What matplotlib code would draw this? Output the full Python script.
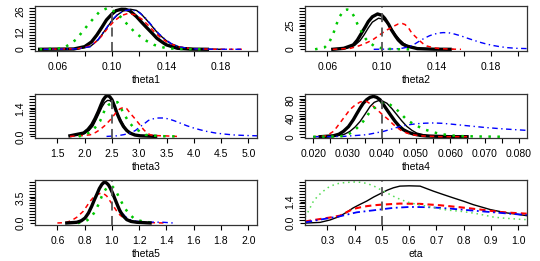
import numpy as np
import matplotlib
matplotlib.use("Agg")
import matplotlib.pyplot as plt

plt.rcParams["font.family"] = ["Liberation Sans", "DejaVu Sans"]

# ---- theta1 ----
t1_black1_x = [0.047, 0.072, 0.080, 0.085, 0.089, 0.093, 0.096, 0.100, 0.103, 0.107, 0.110, 0.113, 0.118, 0.122, 0.126, 0.130, 0.133, 0.137, 0.140, 0.148, 0.158, 0.170]
t1_black1_y = [0, 0.2, 1.8, 5.0, 9.8, 15.5, 20, 24, 26.3, 27.3, 27.2, 26.3, 22.3, 18.2, 14.3, 10.5, 7.5, 4.8, 3.0, 0.7, 0.1, 0]
t1_black2_x = [0.055, 0.075, 0.084, 0.090, 0.096, 0.100, 0.104, 0.108, 0.1135, 0.118, 0.121, 0.125, 0.128, 0.132, 0.135, 0.140, 0.143, 0.150, 0.162, 0.180]
t1_black2_y = [0, 0.3, 1.8, 6.5, 14.3, 19.5, 23.4, 26, 27.3, 26.5, 24.5, 20.5, 17.3, 12.8, 9.8, 5.8, 4.0, 1.4, 0.2, 0]
t1_blue_x = [0.05, 0.075, 0.084, 0.090, 0.096, 0.100, 0.104, 0.109, 0.114, 0.119, 0.124, 0.129, 0.134, 0.139, 0.144, 0.150, 0.160, 0.175, 0.197]
t1_blue_y = [0, 0.3, 1.8, 6.8, 14.5, 19.8, 23.6, 26.3, 27.0, 25.8, 22, 16.5, 11, 6.8, 3.6, 1.5, 0.3, 0.05, 0]
t1_red_x = [0.05, 0.075, 0.085, 0.092, 0.097, 0.102, 0.107, 0.112, 0.117, 0.122, 0.127, 0.132, 0.137, 0.142, 0.150, 0.160, 0.175, 0.197]
t1_red_y = [0, 0.4, 2.5, 8.5, 14.5, 19.5, 23, 24.5, 23.5, 20.5, 16, 11, 7, 4, 1.5, 0.3, 0.05, 0]
t1_green_x = [0.047, 0.064, 0.069, 0.074, 0.078, 0.084, 0.091, 0.097, 0.104, 0.111, 0.117, 0.124, 0.131, 0.140, 0.150, 0.165]
t1_green_y = [0, 0.7, 3.4, 6.8, 11.6, 18.4, 25.7, 28.2, 24.5, 17.3, 11.4, 6.4, 3.0, 0.7, 0.2, 0]

# ---- theta2 ----
t2_black1_x = [0.064, 0.072, 0.079, 0.082, 0.085, 0.088, 0.090, 0.093, 0.0968, 0.100, 0.102, 0.105, 0.107, 0.110, 0.112, 0.115, 0.118, 0.126, 0.138, 0.150]
t2_black1_y = [0, 1, 4.5, 9.5, 16.5, 23.5, 28.5, 33.5, 36.4, 35, 32, 25.5, 20, 13.5, 9.6, 5.5, 3.4, 0.7, 0.1, 0]
t2_black2_x = [0.066, 0.074, 0.080, 0.084, 0.087, 0.090, 0.093, 0.0975, 0.101, 0.104, 0.107, 0.110, 0.113, 0.116, 0.120, 0.128, 0.140, 0.152]
t2_black2_y = [0, 1, 4, 9, 15, 22, 28, 32, 31, 27, 21.5, 15, 10, 6, 3, 0.8, 0.1, 0]
t2_green_x = [0.051, 0.058, 0.061, 0.064, 0.067, 0.069, 0.072, 0.0745, 0.077, 0.080, 0.082, 0.085, 0.088, 0.090, 0.095, 0.101, 0.110, 0.121]
t2_green_y = [0, 2, 6.2, 14.8, 26.8, 33.7, 39.9, 41, 39.9, 33, 26.1, 18.2, 11, 7.9, 2.7, 0.7, 0.1, 0]
t2_red_x = [0.064, 0.077, 0.083, 0.086, 0.090, 0.094, 0.097, 0.100, 0.103, 0.106, 0.109, 0.112, 0.115, 0.117, 0.120, 0.122, 0.125, 0.127, 0.130, 0.133, 0.138, 0.143, 0.150, 0.158]
t2_red_y = [0, 1, 3.5, 5, 7.5, 10.5, 13.5, 16.5, 19.5, 21.6, 24, 26.1, 26.5, 25.5, 21, 16.5, 12.5, 9.6, 6, 3.4, 1.5, 0.7, 0.2, 0]
t2_blue_x = [0.094, 0.105, 0.1135, 0.118, 0.123, 0.127, 0.131, 0.135, 0.138, 0.142, 0.145, 0.149, 0.153, 0.158, 0.163, 0.168, 0.172, 0.177, 0.182, 0.187, 0.192, 0.199, 0.207]
t2_blue_y = [0, 0.2, 0.7, 2, 4.5, 8, 11.3, 14, 15.5, 16.8, 17.2, 17, 15.8, 13.8, 11.3, 9, 7.2, 5.3, 3.8, 2.6, 1.7, 1.0, 0.7]

# ---- theta3 ----
t3_black1_x = [1.73, 1.98, 2.06, 2.13, 2.19, 2.25, 2.30, 2.34, 2.38, 2.42, 2.46, 2.50, 2.55, 2.59, 2.65, 2.71, 2.77, 2.83, 2.92, 3.02, 3.3]
t3_black1_y = [0.03, 0.17, 0.35, 0.59, 0.9, 1.26, 1.6, 1.85, 2.0, 2.07, 2.0, 1.85, 1.5, 1.18, 0.8, 0.5, 0.3, 0.17, 0.07, 0.03, 0]
t3_black2_x = [1.75, 2.0, 2.08, 2.15, 2.21, 2.27, 2.32, 2.37, 2.42, 2.47, 2.52, 2.57, 2.62, 2.68, 2.74, 2.80, 2.87, 2.95, 3.05, 3.3]
t3_black2_y = [0.02, 0.15, 0.3, 0.52, 0.85, 1.2, 1.5, 1.72, 1.82, 1.8, 1.65, 1.38, 1.05, 0.72, 0.45, 0.26, 0.13, 0.06, 0.02, 0]
t3_green_x = [1.89, 2.03, 2.16, 2.28, 2.37, 2.44, 2.50, 2.55, 2.60, 2.65, 2.71, 2.80, 2.88, 2.96, 3.11, 3.3, 3.45, 3.69]
t3_green_y = [0, 0.1, 0.34, 0.76, 1.35, 1.6, 1.68, 1.72, 1.73, 1.5, 1.18, 0.76, 0.5, 0.34, 0.08, 0.03, 0.01, 0]
t3_red_x = [1.73, 1.95, 2.1, 2.2, 2.28, 2.37, 2.47, 2.53, 2.59, 2.65, 2.71, 2.77, 2.83, 2.90, 2.96, 3.02, 3.08, 3.14, 3.2, 3.3, 3.45, 3.69]
t3_red_y = [0, 0.04, 0.08, 0.2, 0.34, 0.55, 0.84, 1.05, 1.26, 1.4, 1.46, 1.4, 1.18, 0.96, 0.76, 0.55, 0.34, 0.18, 0.08, 0.04, 0.03, 0]
t3_blue_x = [2.4, 2.59, 2.72, 2.83, 2.93, 3.02, 3.10, 3.17, 3.26, 3.35, 3.45, 3.54, 3.64, 3.75, 3.87, 4.0, 4.12, 4.24, 4.4, 4.55, 4.75, 4.92, 5.16]
t3_blue_y = [0, 0.03, 0.09, 0.17, 0.3, 0.5, 0.66, 0.81, 0.89, 0.93, 0.93, 0.88, 0.79, 0.67, 0.54, 0.42, 0.33, 0.25, 0.17, 0.12, 0.07, 0.05, 0.03]

# ---- theta4 ----
t4_black1_x = [0.022, 0.0259, 0.0275, 0.0288, 0.0303, 0.0317, 0.0327, 0.0337, 0.0346, 0.0356, 0.0366, 0.0376, 0.0385, 0.0395, 0.0405, 0.0415, 0.0427, 0.0439, 0.0451, 0.0463, 0.0478, 0.0493, 0.0512, 0.0532, 0.060, 0.0649]
t4_black1_y = [0, 2, 5.5, 11.6, 22, 37, 50, 62.6, 73, 80.8, 86, 88, 86, 80.8, 70, 59, 46, 33.5, 23, 15.3, 9.5, 5.8, 3, 1.5, 0, 0]
t4_black2_x = [0.022, 0.027, 0.0290, 0.0307, 0.0322, 0.0337, 0.0352, 0.0366, 0.0378, 0.0390, 0.0402, 0.0415, 0.0430, 0.0444, 0.0458, 0.0473, 0.0488, 0.0502, 0.0520, 0.0541, 0.058, 0.065]
t4_black2_y = [0, 2, 5, 11.6, 21, 33.5, 50, 66, 75, 78.6, 78, 73, 61, 48, 35, 22.6, 14, 8, 4.5, 2, 0.5, 0]
t4_red_x = [0.020, 0.022, 0.0239, 0.0259, 0.0268, 0.0278, 0.0293, 0.0307, 0.0322, 0.0337, 0.0346, 0.0356, 0.0366, 0.0376, 0.0388, 0.040, 0.042, 0.0432, 0.0444, 0.0458, 0.0473, 0.0492, 0.0512, 0.0571, 0.0649]
t4_red_y = [0, 0.5, 2, 11.6, 20, 30, 45, 59, 69, 75.7, 77.5, 77, 72, 66, 58, 49.5, 37, 28, 20.4, 13, 8, 4, 2, 0, 0]
t4_green_x = [0.020, 0.0278, 0.0300, 0.0317, 0.0332, 0.0346, 0.0356, 0.0366, 0.0383, 0.040, 0.0412, 0.0424, 0.0434, 0.0444, 0.0456, 0.0468, 0.048, 0.0493, 0.051, 0.0527, 0.055, 0.0571, 0.062, 0.0685, 0.0746]
t4_green_y = [0, 0.5, 4, 11.6, 22, 33.5, 44, 55, 66, 73.5, 74, 70, 65, 59, 50, 40.8, 33.5, 27.7, 21, 15.3, 10, 5.8, 1.5, 0.5, 0]
t4_blue_x = [0.020, 0.0288, 0.0356, 0.0405, 0.0430, 0.0454, 0.0478, 0.0502, 0.0527, 0.0551, 0.0575, 0.060, 0.0649, 0.0698, 0.0746, 0.0785, 0.0824]
t4_blue_y = [0, 0.7, 4.4, 11.6, 17, 22.6, 26, 28.4, 29.5, 30, 29.3, 27.7, 24, 20.4, 17.5, 15.6, 13.8]

# ---- theta5 ----
t5_black1_x = [0.669, 0.742, 0.775, 0.803, 0.828, 0.852, 0.870, 0.889, 0.908, 0.926, 0.940, 0.950, 0.962, 0.975, 0.987, 1.005, 1.024, 1.042, 1.06, 1.085, 1.109, 1.14, 1.183, 1.28]
t5_black1_y = [0, 0.1, 0.3, 0.7, 1.4, 2.36, 3.2, 4.0, 4.85, 5.42, 5.7, 5.75, 5.6, 5.35, 4.95, 4.2, 3.3, 2.45, 1.65, 0.95, 0.47, 0.22, 0.1, 0]
t5_blue_x = [0.669, 0.742, 0.803, 0.852, 0.889, 0.926, 0.957, 0.987, 1.024, 1.048, 1.072, 1.096, 1.12, 1.15, 1.18, 1.22, 1.256, 1.30, 1.378, 1.45]
t5_blue_y = [0, 0.1, 0.7, 2.36, 4.1, 5.42, 5.66, 5.0, 3.3, 2.3, 1.5, 0.95, 0.57, 0.35, 0.24, 0.18, 0.14, 0.12, 0.1, 0]
t5_red_x = [0.60, 0.656, 0.70, 0.742, 0.79, 0.815, 0.84, 0.865, 0.889, 0.914, 0.938, 0.962, 0.987, 1.012, 1.036, 1.06, 1.097, 1.14, 1.18, 1.28, 1.38]
t5_red_y = [0, 0.05, 0.3, 0.8, 1.65, 2.35, 3.07, 3.6, 4.0, 4.15, 4.15, 3.8, 3.07, 2.35, 1.65, 1.1, 0.57, 0.25, 0.12, 0.05, 0]
t5_green_x = [0.75, 0.79, 0.82, 0.852, 0.870, 0.889, 0.908, 0.926, 0.944, 0.962, 0.981, 1.0, 1.018, 1.036, 1.058, 1.08, 1.10, 1.121, 1.158, 1.2, 1.232, 1.28, 1.33]
t5_green_y = [0, 0.1, 0.4, 0.94, 1.45, 2.1, 2.9, 3.77, 4.45, 4.95, 5.15, 5.2, 4.85, 4.25, 3.4, 2.6, 1.95, 1.4, 0.7, 0.35, 0.2, 0.08, 0]

# ---- eta ----
eta_black_x = [0.224, 0.273, 0.31, 0.346, 0.37, 0.395, 0.42, 0.444, 0.47, 0.5, 0.52, 0.542, 0.566, 0.60, 0.64, 0.689, 0.725, 0.762, 0.80, 0.835, 0.87, 0.897, 0.93, 0.958, 1.0, 1.031]
eta_black_y = [0, 0.04, 0.2, 0.44, 0.7, 0.99, 1.22, 1.43, 1.7, 1.97, 2.15, 2.3, 2.41, 2.43, 2.41, 2.08, 1.86, 1.64, 1.42, 1.2, 1.02, 0.88, 0.76, 0.66, 0.56, 0.48]
eta_green_x = [0.218, 0.224, 0.249, 0.267, 0.285, 0.303, 0.322, 0.34, 0.359, 0.38, 0.40, 0.42, 0.444, 0.47, 0.494, 0.52, 0.542, 0.57, 0.603, 0.634, 0.664, 0.695, 0.725, 0.755, 0.786, 0.817, 0.848, 0.879, 0.909, 0.94, 0.97, 1.0, 1.031]
eta_green_y = [0.4, 0.55, 1.43, 1.8, 2.08, 2.32, 2.48, 2.58, 2.63, 2.66, 2.68, 2.66, 2.59, 2.42, 2.19, 1.95, 1.75, 1.52, 1.32, 1.2, 1.1, 0.99, 0.88, 0.82, 0.77, 0.7, 0.61, 0.5, 0.39, 0.33, 0.29, 0.25, 0.22]
eta_red_x = [0.218, 0.273, 0.31, 0.346, 0.37, 0.395, 0.42, 0.444, 0.47, 0.5, 0.566, 0.64, 0.713, 0.786, 0.86, 0.933, 0.982, 1.031]
eta_red_y = [0.1, 0.26, 0.36, 0.48, 0.7, 0.92, 1.02, 1.1, 1.16, 1.2, 1.27, 1.25, 1.16, 1.03, 0.88, 0.72, 0.66, 0.61]
eta_blue_x = [0.218, 0.273, 0.346, 0.408, 0.469, 0.542, 0.603, 0.677, 0.75, 0.835, 0.909, 0.982, 1.031]
eta_blue_y = [0.04, 0.22, 0.44, 0.7, 0.83, 0.99, 1.05, 1.03, 0.94, 0.81, 0.7, 0.59, 0.53]

# panel labels, true values, axis ticks
names = ["theta1", "theta2", "theta3", "theta4", "theta5", "eta"]
true_vals = [0.10, 0.10, 2.5, 0.04, 1.0, 0.5]
xticks = [np.arange(0.06, 0.201, 0.02), np.arange(0.06, 0.201, 0.02), np.arange(1.5, 5.01, 0.5),
          np.arange(0.020, 0.0801, 0.005), np.arange(0.6, 2.01, 0.2), np.arange(0.3, 1.01, 0.1)]
xlabels = [["0.06", "", "0.10", "", "0.14", "", "0.18", ""],
           ["0.06", "", "0.10", "", "0.14", "", "0.18", ""],
           ["1.5", "2.0", "2.5", "3.0", "3.5", "4.0", "4.5", "5.0"],
           ["0.020", "", "0.030", "", "0.040", "", "0.050", "", "0.060", "", "0.070", "", "0.080"],
           ["0.6", "0.8", "1.0", "1.2", "1.4", "1.6", "1.8", "2.0"],
           ["0.3", "0.4", "0.5", "0.6", "0.7", "0.8", "0.9", "1.0"]]
yticks = [[0, 12, 26], [0, 25], [0.0, 1.4], [0, 40, 80], [0.0, 3.5], [0.0, 1.4]]
ylabels = [["0", "12", "26"], ["0", "25"], ["0.0", "1.4"], ["0", "40", "80"], ["0.0", "3.5"], ["0.0", "1.4"]]
xlims = [(0.0436, 0.2064), (0.0436, 0.2064), (1.09, 5.156), (0.0176, 0.0824), (0.436, 2.064), (0.218, 1.032)]
ylims = [(-1.16, 29.5), (-1.75, 44.6), (-0.08, 2.14), (-2.8, 93.2), (-0.24, 6.05), (-0.11, 2.81)]

curves = {
    0: [(t1_black1_x, t1_black1_y, "k-3"), (t1_black2_x, t1_black2_y, "k-1"), (t1_red_x, t1_red_y, "r"),
        (t1_blue_x, t1_blue_y, "b"), (t1_green_x, t1_green_y, "g")],
    1: [(t2_black1_x, t2_black1_y, "k-3"), (t2_black2_x, t2_black2_y, "k-1"), (t2_red_x, t2_red_y, "r"),
        (t2_blue_x, t2_blue_y, "b"), (t2_green_x, t2_green_y, "g")],
    2: [(t3_black1_x, t3_black1_y, "k-3"), (t3_black2_x, t3_black2_y, "k-1"), (t3_red_x, t3_red_y, "r"),
        (t3_blue_x, t3_blue_y, "b"), (t3_green_x, t3_green_y, "g")],
    3: [(t4_black1_x, t4_black1_y, "k-3"), (t4_black2_x, t4_black2_y, "k-1"), (t4_red_x, t4_red_y, "r"),
        (t4_blue_x, t4_blue_y, "b"), (t4_green_x, t4_green_y, "g")],
    4: [(t5_red_x, t5_red_y, "r"), (t5_blue_x, t5_blue_y, "b"), (t5_green_x, t5_green_y, "g"),
        (t5_black1_x, t5_black1_y, "k-3")],
    5: [(eta_black_x, eta_black_y, "k-1"), (eta_red_x, eta_red_y, "r2"), (eta_blue_x, eta_blue_y, "b2"),
        (eta_green_x, eta_green_y, "g2")],
}

styles = {
    "k-3": dict(color="black", lw=2.4, ls="-"),
    "k-1": dict(color="black", lw=1.0, ls="-"),
    "r": dict(color="#ff0000", lw=1.1, ls=(0, (3, 2.5))),
    "b": dict(color="#0000ff", lw=1.0, ls=(0, (4, 2.5, 1, 2.5))),
    "g": dict(color="#00c800", lw=1.8, ls=(0, (1, 2.6))),
    "r2": dict(color="#ff0000", lw=1.5, ls=(0, (3, 2))),
    "b2": dict(color="#0000ff", lw=1.3, ls=(0, (4, 2, 1, 2))),
    "g2": dict(color="#55dd55", lw=1.1, ls=(0, (1, 2.5))),
}

W, H = 540, 261
fig = plt.figure(figsize=(W / 100, H / 100), dpi=100)
lefts = [35, 305]
rows = [(6, 51), (94, 138), (180, 224.7)]

for i in range(6):
    col = i % 2
    top, bot = rows[i // 2]
    ax = fig.add_axes([lefts[col] / W, 1 - bot / H, 222 / W, (bot - top) / H])
    for xs, ys, st in curves[i]:
        ax.plot(xs, ys, **styles[st])
    ax.axvline(true_vals[i], color="#555555", lw=1.3, ls=(0, (5, 3)))
    ax.set_xlim(*xlims[i])
    ax.set_ylim(*ylims[i])
    ax.set_xticks(xticks[i])
    ax.set_xticklabels(xlabels[i])
    ax.set_yticks(yticks[i])
    ax.set_yticklabels(ylabels[i], rotation=90, va="center")
    # comb of short marks along the y axis
    ax.set_yticks(np.linspace(0, ylims[i][1] * 0.95, 15), minor=True)
    ax.tick_params(axis="x", which="major", direction="out", length=3.5, width=0.8,
                   labelsize=7.5, pad=4.5)
    ax.tick_params(axis="y", which="major", direction="out", length=3.5, width=0.8,
                   labelsize=7.5, pad=3.5)
    ax.tick_params(axis="y", which="minor", direction="out", length=4, width=0.8)
    ax.set_xlabel(names[i], fontsize=7.5, labelpad=2)
    for s in ax.spines.values():
        s.set_linewidth(0.9)
        s.set_color("#333333")

fig.savefig("out.png", dpi=100)
